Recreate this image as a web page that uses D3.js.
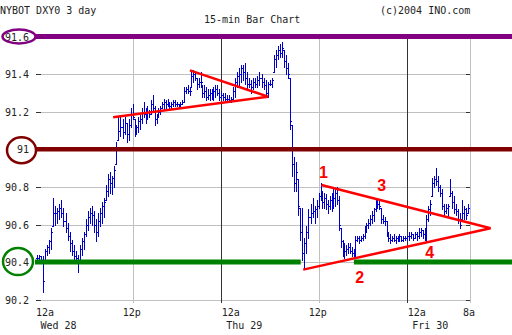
<!DOCTYPE html>
<html>
<head>
<meta charset="utf-8">
<title>NYBOT DXY0 3 day</title>
<script src="https://cdn.jsdelivr.net/npm/d3@7"></script>
<style>
  body { margin: 0; background: #fff; }
  svg { display: block; }
  text { font-family: "DejaVu Sans Mono", monospace; font-size: 10px; fill: #222; }
</style>
</head>
<body>
<svg id="chart"></svg>
<script>
const WIDTH = 512
const HEIGHT = 335

// 15-min bars, first one at 12:15a Wed, one every quarter hour
const high = [
  90.44,90.44,90.43,90.43,90.47,90.49,90.52,90.58,90.74,90.70,90.69,90.71,90.73,90.69,90.66,90.61,90.56,90.52,90.49,90.46,90.44,90.49,90.53,90.56,
  90.63,90.67,90.69,90.70,90.67,90.63,90.66,90.69,90.72,90.74,90.81,90.87,90.88,90.86,90.91,91.04,91.17,91.17,91.16,91.17,91.14,91.16,91.22,91.24,
  91.16,91.13,91.17,91.18,91.22,91.25,91.22,91.23,91.21,91.26,91.29,91.23,91.19,91.22,91.23,91.25,91.27,91.26,91.27,91.25,91.25,91.26,91.26,91.25,
  91.24,91.25,91.26,91.33,91.33,91.34,91.33,91.41,91.42,91.41,91.38,91.38,91.41,91.34,91.34,91.33,91.32,91.32,91.32,91.33,91.34,91.34,91.32,91.31,
  91.30,91.30,91.29,91.29,91.28,91.33,91.38,91.41,91.43,91.45,91.45,91.46,91.41,91.38,91.37,91.38,91.38,91.39,91.41,91.40,91.38,91.37,91.36,91.37,
  91.38,91.50,91.53,91.55,91.56,91.57,91.53,91.50,91.46,91.38,91.13,90.96,90.93,90.84,90.69,90.69,90.53,90.59,90.68,90.71,90.74,90.70,90.73,90.77,
  90.82,90.78,90.77,90.76,90.73,90.75,90.77,90.79,90.79,90.80,90.75,90.58,90.52,90.50,90.49,90.50,90.50,90.48,90.47,90.54,90.54,90.54,90.54,90.55,
  90.59,90.61,90.63,90.65,90.67,90.69,90.73,90.74,90.73,90.69,90.65,90.64,90.62,90.56,90.55,90.54,90.55,90.54,90.54,90.55,90.54,90.54,90.54,90.54,
  90.56,90.56,90.55,90.56,90.56,90.58,90.58,90.57,90.58,90.65,90.70,90.73,90.85,90.86,90.90,90.86,90.81,90.79,90.71,90.71,90.71,90.84,90.78,90.75,
  90.71,90.68,90.66,90.73,90.70,90.69,90.71
]
const low = [
  90.41,90.40,90.40,90.24,90.40,90.44,90.45,90.47,90.59,90.60,90.61,90.63,90.64,90.59,90.56,90.52,90.46,90.44,90.41,90.40,90.35,90.40,90.44,90.47,
  90.54,90.57,90.61,90.60,90.56,90.51,90.54,90.59,90.61,90.64,90.73,90.75,90.77,90.76,90.80,90.92,91.05,91.07,91.06,91.08,91.04,91.05,91.12,91.16,
  91.07,91.08,91.09,91.11,91.14,91.17,91.14,91.16,91.17,91.19,91.21,91.13,91.14,91.17,91.19,91.22,91.21,91.22,91.23,91.22,91.22,91.23,91.23,91.23,
  91.22,91.23,91.24,91.25,91.30,91.30,91.29,91.33,91.36,91.37,91.32,91.33,91.33,91.28,91.28,91.26,91.27,91.26,91.27,91.26,91.28,91.29,91.26,91.27,
  91.26,91.26,91.25,91.25,91.25,91.26,91.28,91.33,91.34,91.36,91.37,91.35,91.32,91.33,91.30,91.32,91.33,91.33,91.34,91.33,91.32,91.28,91.28,91.34,
  91.33,91.41,91.44,91.48,91.49,91.49,91.44,91.40,91.38,91.11,90.86,90.78,90.78,90.65,90.52,90.41,90.37,90.45,90.53,90.61,90.64,90.61,90.64,90.69,
  90.73,90.69,90.69,90.68,90.66,90.68,90.67,90.69,90.70,90.71,90.57,90.48,90.43,90.42,90.44,90.45,90.45,90.43,90.42,90.43,90.51,90.50,90.51,90.52,
  90.53,90.56,90.58,90.60,90.61,90.62,90.67,90.69,90.68,90.61,90.61,90.60,90.54,90.51,90.50,90.51,90.51,90.50,90.51,90.51,90.51,90.51,90.52,90.52,
  90.52,90.53,90.52,90.53,90.52,90.53,90.54,90.53,90.52,90.51,90.62,90.65,90.75,90.80,90.81,90.78,90.75,90.68,90.65,90.66,90.64,90.75,90.69,90.66,
  90.65,90.61,90.58,90.63,90.63,90.63,90.66
]
const close = [
  90.42,90.43,90.41,90.30,90.46,90.48,90.51,90.56,90.66,90.66,90.67,90.69,90.66,90.62,90.58,90.54,90.50,90.46,90.43,90.42,90.40,90.47,90.51,90.55,
  90.60,90.64,90.66,90.65,90.60,90.56,90.62,90.66,90.70,90.72,90.78,90.84,90.82,90.85,90.89,91.01,91.10,91.12,91.09,91.14,91.08,91.13,91.19,91.17,
  91.10,91.12,91.15,91.16,91.20,91.19,91.18,91.20,91.19,91.24,91.22,91.16,91.18,91.20,91.22,91.24,91.25,91.24,91.25,91.23,91.24,91.25,91.24,91.24,
  91.23,91.24,91.25,91.31,91.32,91.31,91.31,91.39,91.40,91.38,91.35,91.36,91.36,91.30,91.31,91.28,91.29,91.30,91.29,91.31,91.32,91.30,91.28,91.29,
  91.28,91.27,91.27,91.26,91.27,91.31,91.36,91.39,91.40,91.43,91.41,91.38,91.35,91.35,91.33,91.36,91.35,91.37,91.38,91.36,91.34,91.30,91.35,91.35,
  91.37,91.48,91.50,91.53,91.51,91.54,91.47,91.43,91.40,91.15,90.92,90.82,90.88,90.70,90.56,90.45,90.50,90.56,90.64,90.66,90.67,90.68,90.70,90.75,
  90.76,90.72,90.74,90.71,90.70,90.73,90.76,90.74,90.77,90.73,90.60,90.51,90.47,90.46,90.47,90.48,90.46,90.45,90.44,90.52,90.53,90.52,90.53,90.54,
  90.57,90.60,90.61,90.63,90.65,90.68,90.71,90.71,90.70,90.63,90.62,90.62,90.56,90.53,90.52,90.53,90.52,90.53,90.52,90.54,90.52,90.53,90.53,90.54,
  90.54,90.55,90.53,90.55,90.54,90.56,90.57,90.55,90.57,90.63,90.68,90.71,90.82,90.84,90.83,90.80,90.77,90.70,90.67,90.69,90.70,90.77,90.72,90.68,
  90.67,90.63,90.60,90.66,90.68,90.65,90.69
]

const yTicks = [91.6, 91.4, 91.2, 91, 90.8, 90.6, 90.4, 90.2]
const tickHours = [0, 12, 24, 36, 48, 56]
const tickLabels = ['12a', '12p', '12a', '12p', '12a', '8a']
const dayHours = [0, 24, 48]
const dayLabels = ['Wed 28', 'Thu 29', 'Fri 30']

// drawn-in levels (circled on the axis)
const levelPrices = [91.6, 91, 90.4]
const levelColors = ['#800080', '#800000', '#008000']
const greenGap = [33.8, 40.8]   // hours where the green line is broken

// triangle trendlines: start, apex, start   [hour, price]
const triangles = [
    [[9.6, 91.17], [29.8, 91.28], [19.8, 91.42]],
    [[36.38, 90.81], [58.6, 90.58], [34.1, 90.36]]
]
const pointLabels = ['1', '2', '3', '4']
const pointHours = [36.65, 41.6, 44.6, 50.9]
const pointPrices = [90.85, 90.29, 90.78, 90.42]

const svg = d3.select('#chart')
    .attr('width', WIDTH)
    .attr('height', HEIGHT)

// bar axis: the overnight stretch is compressed a little, like the original
const x = d3.scaleLinear()
    .domain(tickHours)
    .range([35, 132.7, 220.7, 318.7, 406.7, 470])
const y = d3.scaleLinear()
    .domain([90.2, 91.6])
    .range([299.7, 36.5])

const PLOT_L = 35, PLOT_R = 470

// grid
const grid = svg.append('g').attr('shape-rendering', 'crispEdges')
grid.selectAll('line.h')
    .data(yTicks)
    .enter().append('line')
    .attr('x1', PLOT_L + 6).attr('x2', PLOT_R - 4)
    .attr('y1', d => Math.round(y(d)) + 0.5).attr('y2', d => Math.round(y(d)) + 0.5)
    .attr('stroke', '#c0c0c0')
grid.selectAll('line.tl')
    .data(yTicks)
    .enter().append('line')
    .attr('x1', PLOT_L + 1).attr('x2', PLOT_L + 6)
    .attr('y1', d => Math.round(y(d)) + 0.5).attr('y2', d => Math.round(y(d)) + 0.5)
    .attr('stroke', '#333')
grid.selectAll('line.tr')
    .data(yTicks)
    .enter().append('line')
    .attr('x1', PLOT_R - 4).attr('x2', PLOT_R)
    .attr('y1', d => Math.round(y(d)) + 0.5).attr('y2', d => Math.round(y(d)) + 0.5)
    .attr('stroke', '#333')
grid.selectAll('line.v')
    .data(tickHours.slice(1))
    .enter().append('line')
    .attr('x1', d => Math.round(x(d)) + 0.5).attr('x2', d => Math.round(x(d)) + 0.5)
    .attr('y1', y(91.6)).attr('y2', y(90.2) + 3)
    .attr('stroke', d => d % 24 === 0 ? '#333' : '#c0c0c0')

// y labels
svg.append('g').selectAll('text')
    .data(yTicks)
    .enter().append('text')
    .attr('x', 29)
    .attr('y', d => y(d) + 4)
    .attr('text-anchor', 'end')
    .text(d => String(d))

// x labels
svg.append('g').selectAll('text')
    .data(tickHours)
    .enter().append('text')
    .attr('x', (d, i) => tickLabels[i] === '12a' ? x(d) + 1 : x(d) - 1)
    .attr('y', 316)
    .attr('text-anchor', (d, i) => tickLabels[i] === '12a' ? 'start' : 'middle')
    .text((d, i) => tickLabels[i])
svg.append('g').selectAll('text')
    .data(dayHours)
    .enter().append('text')
    .attr('x', d => x(d) + 5.5)
    .attr('y', 329)
    .text((d, i) => dayLabels[i])

// bars: high-low stick, tick on the left where the bar picked up
// from the previous close, tick on the right at its own close
const hourOf = (i) => (i + 1) * 0.25
let barPath = ''
high.forEach((h, i) => {
    const xi = Math.round(x(hourOf(i)))
    const yh = Math.round(y(h))
    const yl = Math.round(y(low[i])) + 1
    const yc = Math.round(y(close[i])) + 0.5
    const prev = i > 0 ? Math.min(h, Math.max(low[i], close[i - 1])) : close[i]
    const yo = Math.round(y(prev)) + 0.5
    barPath += `M${xi + 0.5},${yh}V${yl}M${xi - 1},${yo}h1M${xi + 1},${yc}h1`
})
svg.append('path')
    .attr('d', barPath)
    .attr('fill', 'none')
    .attr('stroke', '#0000cc')
    .attr('stroke-width', 1)
    .attr('shape-rendering', 'crispEdges')

// levels
const levelWidths = [5, 4.5, 5]
const levels = svg.append('g')
levelPrices.forEach((p, i) => {
    const spans = levelColors[i] === '#008000'
        ? [[0, greenGap[0]], [greenGap[1], 62]]
        : [[0, 62]]
    spans.forEach(s => {
        levels.append('line')
            .attr('x1', x(s[0])).attr('x2', Math.min(WIDTH, x(s[1])))
            .attr('y1', y(p)).attr('y2', y(p))
            .attr('stroke', levelColors[i])
            .attr('stroke-width', levelWidths[i])
    })
})
// circles drawn round the axis labels
const rings = [[19, 0, 16.5, 7], [21.5, 1, 14.5, 13], [18, -0.5, 15, 13.5]]
levelPrices.forEach((p, i) => {
    const r = rings[i]
    levels.append('ellipse')
        .attr('cx', r[0]).attr('cy', y(p) + r[1])
        .attr('rx', r[2]).attr('ry', r[3])
        .attr('fill', 'none')
        .attr('stroke', levelColors[i])
        .attr('stroke-width', 2.5)
})

// triangles
const trend = d3.line().x(d => x(d[0])).y(d => y(d[1]))
svg.append('g').selectAll('path')
    .data(triangles)
    .enter().append('path')
    .attr('d', trend)
    .attr('fill', 'none')
    .attr('stroke', '#ff0000')
    .attr('stroke-width', 2.5)

svg.append('g').selectAll('text')
    .data(pointLabels)
    .enter().append('text')
    .attr('x', (d, i) => x(pointHours[i]))
    .attr('y', (d, i) => y(pointPrices[i]))
    .attr('text-anchor', 'middle')
    .style('font-family', '"Liberation Sans", Arial, sans-serif')
    .style('font-size', '16px')
    .style('font-weight', 'bold')
    .style('fill', '#ff0000')
    .text(d => d)

// titles
svg.append('text').attr('x', 0).attr('y', 14).text('NYBOT DXY0 3 day')
svg.append('text').attr('x', 204).attr('y', 22.5).text('15-min Bar Chart')
svg.append('text').attr('x', 380).attr('y', 14).text('(c)2004 INO.com')
</script>
</body>
</html>
